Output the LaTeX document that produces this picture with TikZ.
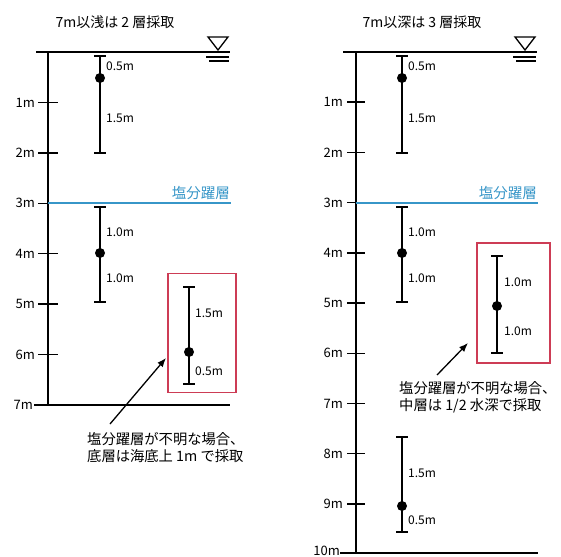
\documentclass[tikz,border=0pt]{standalone}
\usepackage{fontspec}
\setmainfont{Noto Sans CJK JP}
\usetikzlibrary{arrows.meta}
\definecolor{halo}{RGB}{55,150,200}
\definecolor{boxred}{RGB}{205,60,85}
\tikzset{
  axisline/.style={line width=1.8pt},
  tickmark/.style={line width=1.4pt},
  bar/.style={line width=1.4pt},
  sdot/.style={circle,fill=black,inner sep=0pt,minimum size=10pt},
  ticklabel/.style={anchor=east,font=\fontsize{13}{13}\selectfont,inner sep=1pt},
  vallabel/.style={anchor=west,font=\fontsize{12}{12}\selectfont,inner sep=1pt},
  titletext/.style={font=\fontsize{14}{14}\selectfont,inner sep=1pt},
  notetext/.style={font=\fontsize{14.3}{17}\selectfont,align=left,inner sep=1pt,anchor=north west},
  halotext/.style={font=\fontsize{14.5}{14.5}\selectfont,text=halo,inner sep=1pt,anchor=south east},
  haloline/.style={halo,line width=1.5pt},
  redbox/.style={draw=boxred,line width=1.2pt},
  pointer/.style={-{Latex[length=9pt,width=7pt]},line width=1.3pt},
}
\newcommand{\mysampler}[6]{% name, x, top, dot, bottom
  \coordinate (#1t) at (#2,#3);
  \coordinate (#1b) at (#2,#5);
  \draw[bar] (#1t) -- (#1b);
  \draw[bar] ([xshift=-6pt]#1t) -- ([xshift=6pt]#1t);
  \draw[bar] ([xshift=-6pt]#1b) -- ([xshift=6pt]#1b);
  \node[sdot] (#1d) at (#2,#4) {};
}
\newcommand{\mywatersym}[2]{% x, y of surface
  \draw[line width=1.3pt] (#1-10,#2-15) -- (#1+10,#2-15) -- (#1,#2-2) -- cycle;
  \draw[line width=1.3pt] (#1-12,#2+5) -- (#1+11,#2+5);
  \draw[line width=1.3pt] (#1-9,#2+9) -- (#1+11,#2+9);
}
\begin{document}
\begin{tikzpicture}[x=1pt,y=-1pt]
\useasboundingbox (0,0) rectangle (561,556);
% ---------- LEFT PANEL ----------
\node[titletext] (Ltitle) at (115,22) {7m以浅は 2 層採取};
\coordinate (Ltop) at (48,52);
\coordinate (Lbot) at (48,405);
\coordinate (LsurfL) at (36,52);
\coordinate (LsurfR) at (230,52);
\draw[axisline] (LsurfL) -- (LsurfR);
\draw[axisline] (Ltop) -- (Lbot);
\mywatersym{218}{52}
\foreach \d in {1,...,6}{
  \pgfmathsetmacro{\yy}{52+50.4*\d}
  \coordinate (Ltk\d a) at (38,\yy);
  \coordinate (Ltk\d b) at (58,\yy);
  \draw[tickmark] (Ltk\d a) -- (Ltk\d b);
  \node[ticklabel] (Llab\d) at (36,\yy) {\d m};
}
\node[ticklabel] (Llab7) at (34,405) {7m};
\coordinate (LbotL) at (34,405);
\coordinate (LbotR) at (230,405);
\draw[axisline] (LbotL) -- (LbotR);
% halocline
\coordinate (LhaloL) at (48,203);
\coordinate (LhaloR) at (231,203);
\draw[haloline] (LhaloL) -- (LhaloR);
\node[halotext] (Lhalo) at (231,201) {塩分躍層};
% samplers
\mysampler{La}{100}{56}{78}{153}{}
\node[vallabel] (La1) at (105,66) {0.5m};
\node[vallabel] (La2) at (105,118) {1.5m};
\mysampler{Lb}{100}{207}{253}{302}{}
\node[vallabel] (Lb1) at (105,232) {1.0m};
\node[vallabel] (Lb2) at (105,278) {1.0m};
\node[redbox,minimum width=68pt,minimum height=119pt,inner sep=0pt] (Lbox) at (202,333) {};
\mysampler{Lc}{189}{287}{352}{384}{}
\node[vallabel] (Lc1) at (194,313) {1.5m};
\node[vallabel] (Lc2) at (194,371) {0.5m};
\coordinate (Larrow) at (110,424);
\draw[pointer] (Larrow) -- (166,358);
\node[notetext] (Lnote) at (86,431) {塩分躍層が不明な場合、\\底層は海底上 1m で採取};
% ---------- RIGHT PANEL ----------
\node[titletext] (Rtitle) at (422,22) {7m以深は 3 層採取};
\coordinate (Rtop) at (356,52);
\coordinate (Rbot) at (356,553);
\coordinate (RsurfL) at (343,52);
\coordinate (RsurfR) at (537,52);
\draw[axisline] (RsurfL) -- (RsurfR);
\draw[axisline] (Rtop) -- (Rbot);
\mywatersym{525}{52}
\foreach \d in {1,...,9}{
  \pgfmathsetmacro{\yy}{52+50.2*\d}
  \coordinate (Rtk\d a) at (347,\yy);
  \coordinate (Rtk\d b) at (365,\yy);
  \draw[tickmark] (Rtk\d a) -- (Rtk\d b);
  \node[ticklabel] (Rlab\d) at (344,\yy) {\d m};
}
\node[ticklabel,anchor=base east] (Rlab10) at (341,555.5) {10m};
\coordinate (RbotL) at (340,553);
\coordinate (RbotR) at (538,553);
\draw[axisline] (RbotL) -- (RbotR);
% halocline
\coordinate (RhaloL) at (356,203);
\coordinate (RhaloR) at (538,203);
\draw[haloline] (RhaloL) -- (RhaloR);
\node[halotext] (Rhalo) at (538,201) {塩分躍層};
% samplers
\mysampler{Ra}{402}{56}{78}{153}{}
\node[vallabel] (Ra1) at (407,66) {0.5m};
\node[vallabel] (Ra2) at (407,118) {1.5m};
\mysampler{Rb}{402}{207}{253}{302}{}
\node[vallabel] (Rb1) at (407,232) {1.0m};
\node[vallabel] (Rb2) at (407,278) {1.0m};
\node[redbox,minimum width=73pt,minimum height=120pt,inner sep=0pt] (Rbox) at (513.5,303) {};
\mysampler{Rc}{497}{256}{306}{353}{}
\node[vallabel] (Rc1) at (503,282) {1.0m};
\node[vallabel] (Rc2) at (503,331) {1.0m};
\coordinate (Rarrow) at (437,375);
\draw[pointer] (Rarrow) -- (468,343);
\node[notetext] (Rnote) at (398,380) {塩分躍層が不明な場合、\\中層は 1/2 水深で採取};
\mysampler{Rd}{402}{437}{506}{532}{}
\node[vallabel] (Rd1) at (407,473) {1.5m};
\node[vallabel] (Rd2) at (407,520) {0.5m};
\end{tikzpicture}
\end{document}
